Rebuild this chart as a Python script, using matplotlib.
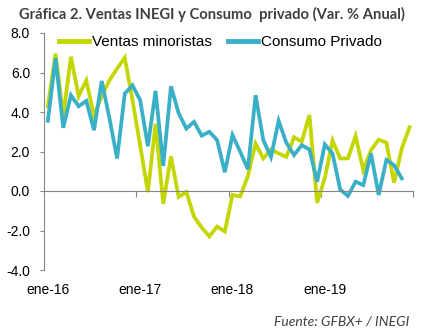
import numpy as np
import matplotlib
matplotlib.use("Agg")
import matplotlib.pyplot as plt

# monthly series, ene-16 .. dic-19 (Var. % anual)
ventas = [4.3, 6.95, 3.8, 6.8, 4.8, 5.6, 3.8, 4.8, 5.6, 6.2,
          6.75, 4.6, 2.3, -0.05, 3.4, -0.65, 1.75, -0.3, -0.05, -1.3,
          -1.85, -2.3, -1.8, -2.05, -0.2, -0.27, 0.75, 2.4, 1.65, 2.1,
          1.9, 1.73, 2.72, 2.5, 3.85, -0.6, 0.65, 2.55, 1.65, 1.65,
          2.78, 1.06, 2.07, 2.6, 2.45, 0.42, 2.15, 3.22]
consumo = [3.55, 6.72, 3.2, 4.85, 4.29, 4.56, 3.08, 5.57, 3.7, 1.65,
           4.93, 5.35, 4.6, 2.27, 5.07, 1.27, 5.3, 3.94, 3.16, 3.5,
           2.8, 3.0, 2.58, 0.95, 2.83, 1.99, 1.1, 4.85, 2.58, 1.72,
           3.55, 2.44, 1.82, 2.32, 2.1, 0.47, 2.36, 1.9, 0.08, -0.25,
           0.47, 0.3, 1.9, -0.2, 1.57, 1.31, 0.64]
tick_labels = ["ene-16", "ene-17", "ene-18", "ene-19"]
yticks = [-4, -2, 0, 2, 4, 6, 8]

green = "#C4D600"
cyan = "#3AAFC8"
gray = "#868686"

plt.rcParams['font.family'] = ['Liberation Sans', 'DejaVu Sans']

fig = plt.figure(figsize=(4.23, 3.31), dpi=100)
ax = fig.add_axes([44/423, 1-270/331, (413.3-44)/423, (270-33)/331])

ax.plot(np.arange(len(ventas)), ventas, color=green, lw=2.7, label="Ventas minoristas",
        solid_joinstyle='miter')
ax.plot(np.arange(len(consumo)), consumo, color=cyan, lw=2.7, label="Consumo Privado",
        solid_joinstyle='miter')

ax.set_xlim(-0.5, 47.5)
ax.set_ylim(-4, 8)
ax.set_yticks(yticks)
ax.set_yticklabels(["%.1f" % v for v in yticks], fontsize=10)
ax.tick_params(axis='y', length=3, width=0.8, color=gray, pad=7)

for s in ['top', 'right']:
    ax.spines[s].set_visible(False)
ax.spines['left'].set_color(gray)
ax.spines['bottom'].set_color(gray)
ax.spines['bottom'].set_position(('data', 0))

# category ticks between years on the zero line
ax.set_xticks(np.arange(11.5, 48, 12))
ax.set_xticklabels([])
ax.tick_params(axis='x', length=4, width=0.8, color=gray, direction='out')

# year labels at the bottom of the plot
sec = ax.secondary_xaxis('bottom')
sec.set_xticks(np.arange(0, 48, 12))
sec.set_xticklabels(tick_labels, fontsize=10)
sec.tick_params(length=0, pad=9)
sec.spines['bottom'].set_visible(False)

leg = ax.legend(loc='upper left', bbox_to_anchor=(0.04, 0.99), ncol=2, frameon=False,
                fontsize=11, handlelength=2.0, handletextpad=0.2, columnspacing=1.0,
                borderaxespad=0, borderpad=0)
for line in leg.get_lines():
    line.set_linewidth(3.5)

fig.text(0.5, 1-14/331, "Gráfica 2. Ventas INEGI y Consumo  privado (Var. % Anual)",
         ha='center', va='center', fontsize=10.6, fontweight='bold', color='#3F3F3F',
         family='Lato')
fig.text(409/423, 1-322/331, "Fuente: GFBX+ / INEGI", ha='right', va='center',
         fontsize=10, style='italic', color='#404040', family='Lato')

fig.savefig("out.png", dpi=100)
